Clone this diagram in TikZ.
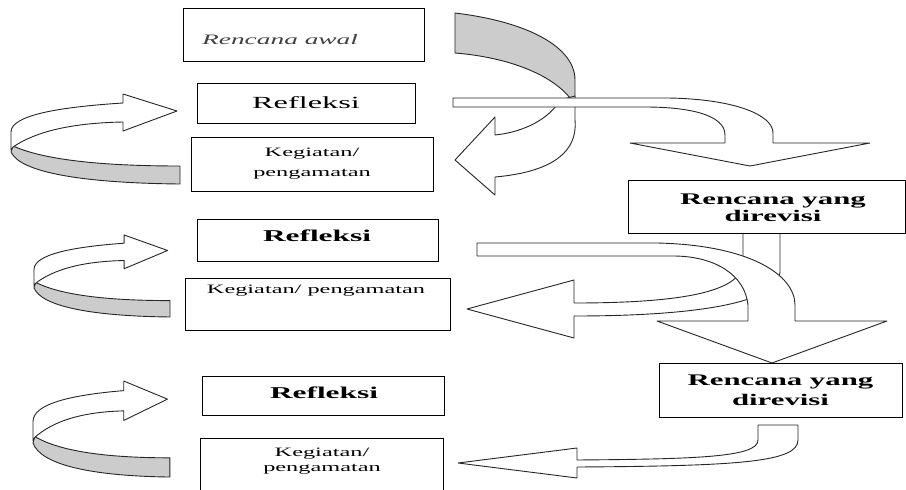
\documentclass[tikz,border=0pt]{standalone}
\usepackage{fontspec}
\setmainfont{Liberation Serif}
\usepackage{graphicx}
\newcommand{\sx}[1]{\scalebox{1.9}[1]{#1}}
\tikzset{
  box/.style={draw=black, line width=0.9pt, fill=white, inner sep=0pt},
  lbl/.style={inner sep=0pt, align=center, text=black},
  arr/.style={draw=black!85, line width=0.9pt, fill=white, line join=round},
  back/.style={draw=black!85, line width=0.9pt, fill=gray!40, line join=round},
}
\newcommand{\curlarrow}{%
  \path[back] (2,52) .. controls (29,64) and (79,72) .. (169,72) -- (169,90) .. controls (69,89) and (9,78) .. (0,58) -- cycle;
  \path[arr] (112,9) -- (112,0) -- (166,17) -- (112,37) -- (112,28) .. controls (59,29) and (24,38) .. (2,53) -- (0,56) -- (0,38) .. controls (0,21) and (49,13) .. (112,9) -- cycle;
}
\begin{document}
\begin{tikzpicture}[x=1pt,y=-1pt]
\useasboundingbox (0,0) rectangle (906,490);

% boxes
\node[box, minimum width=241pt, minimum height=53pt] (awal) at (303.5,34.5) {};
\node[lbl, anchor=west, text=black!75, font=\fontsize{14.4}{16}\selectfont\itshape] (awalt) at (202,40) {\sx{Rencana awal}};

\node[box, minimum width=218pt, minimum height=40pt, font=\fontsize{17}{19}\selectfont] (ref1) at (306,103) {\sx{Refleksi}};
\node[box, minimum width=242pt, minimum height=54pt, align=center, font=\fontsize{12.8}{20}\selectfont] (keg1) at (312,164) {\sx{Kegiatan/}\\\sx{pengamatan}};

\node[box, minimum width=241pt, minimum height=42pt] (ref2) at (317.5,240) {};
\node[lbl, font=\fontsize{16.5}{18}\selectfont\bfseries] (ref2t) at (317,236) {\sx{Refleksi}};
\node[box, minimum width=265pt, minimum height=52pt] (keg2) at (317.5,304) {};
\node[lbl, font=\fontsize{12.8}{15}\selectfont] (keg2t) at (316,291) {\sx{Kegiatan/ pengamatan}};

\node[box, minimum width=242pt, minimum height=39pt] (ref3) at (323,395.5) {};
\node[lbl, font=\fontsize{16.5}{18}\selectfont\bfseries] (ref3t) at (324,393) {\sx{Refleksi}};
\node[box, minimum width=243pt, minimum height=62pt] (keg3) at (321.5,469) {};
\node[lbl, font=\fontsize{12.8}{15.5}\selectfont] (keg3t) at (322,461) {\sx{Kegiatan/}\\\sx{pengamatan}};

% left curl arrows
\begin{scope}[shift={(11,94)}] \curlarrow \end{scope}
\begin{scope}[shift={(34,235)}, xscale=0.805, yscale=0.911] \curlarrow \end{scope}
\begin{scope}[shift={(33,381)}, xscale=0.81, yscale=1.067] \curlarrow \end{scope}

% arrow A
\path[back] (455,13) .. controls (530,22) and (575,48) .. (575,80) -- (575,100) -- (570,98) .. controls (550,73) and (505,57) .. (455,53) -- cycle;
\path[arr] (575,96) -- (575,120) .. controls (578,152) and (552,172) .. (495,177) -- (495,195) -- (455,160) -- (495,117) -- (495,135) .. controls (525,132) and (550,118) .. (560,100) -- cycle;
% arrow B
\path[arr] (453,98) -- (668,98) .. controls (735,99) and (773,115) .. (773,133) -- (773,143) -- (870,143) -- (750,166) -- (630,143) -- (725,143) -- (725,135) .. controls (725,115) and (690,107) .. (645,107) -- (453,107) -- cycle;
% arrow D
\path[arr] (743,233) -- (743,262) .. controls (743,290) and (690,303) .. (574,303) -- (574,280) -- (467,309) -- (574,338) -- (574,316) .. controls (710,316) and (780,300) .. (780,272) -- (780,233) -- cycle;
% arrow C
\path[arr] (477,243) -- (657,243) .. controls (750,245) and (795,275) .. (795,305) -- (795,321) -- (887,321) -- (772,363) -- (657,321) -- (748,321) -- (748,305) .. controls (745,275) and (715,256) .. (673,256) -- (477,256) -- cycle;
% arrow E
\path[arr] (758,425) -- (798,425) -- (798,440) .. controls (798,462) and (740,466) .. (577,467) -- (577,478) -- (458,463) -- (577,448) -- (577,460) .. controls (700,459) and (758,457) .. (758,440) -- cycle;

\node[box, minimum width=277pt, minimum height=53pt] (rev1) at (766.5,206.5) {};
\node[lbl, font=\fontsize{16.2}{17}\selectfont\bfseries] (rev1t) at (773,208) {\sx{Rencana yang}\\\sx{direvisi}};
\node[box, minimum width=243pt, minimum height=54pt, align=center, font=\fontsize{16.2}{20}\selectfont\bfseries] (rev2) at (780.5,390) {\sx{Rencana yang}\\\sx{direvisi}};
\end{tikzpicture}
\end{document}
